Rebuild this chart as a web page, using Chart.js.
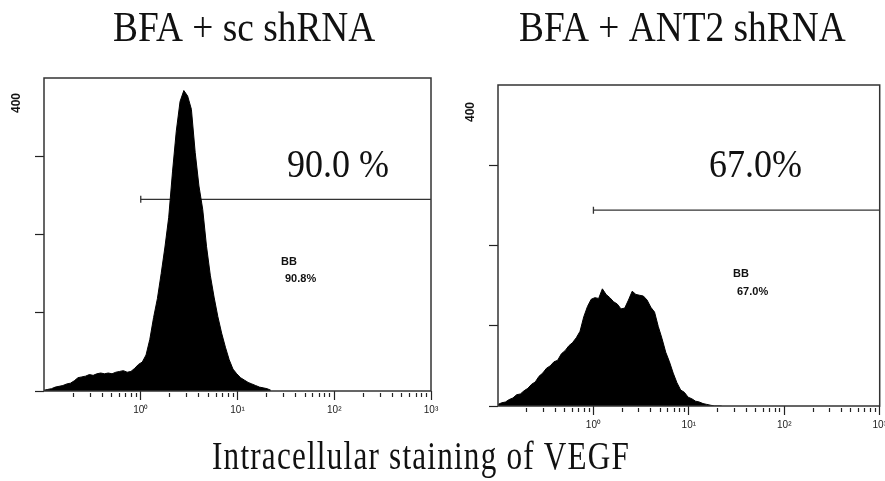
<!DOCTYPE html>
<html>
<head>
<meta charset="utf-8">
<script src="https://cdn.jsdelivr.net/npm/chart.js@4.4.1/dist/chart.umd.min.js"></script>
<style>
  html, body { margin: 0; padding: 0; background: #fff; }
  #wrap { position: relative; width: 885px; height: 481px; overflow: hidden; }
  #c1 { position: absolute; left: 0; top: 0; }
  #c2 { position: absolute; left: 450px; top: 0; }
</style>
</head>
<body>
<div id="wrap">
  <canvas id="c1" width="885" height="481"></canvas>
  <canvas id="c2" width="435" height="481"></canvas>
</div>
<script>
// fluorescence channel (1024 channels = 4 log decades, 256 per decade)
const channels = [0,10,20,30,40,50,60,70,80,90,100,110,120,130,140,150,160,170,180,190,
  200,210,220,230,240,250,260,270,280,290,300,310,320,330,340,350,360,370,380,390,
  400,410,420,430,440,450,460,470,480,490,500,510,520,530,540,550,560,570,580,590,600];

// BFA + sc shRNA  (cell counts per channel bin)
const scCounts = [1,2,3,5,6,7,9,10,13,17,18,19,21,20,22,23,22,23,22,24,
  25,26,24,25,29,34,37,46,66,94,118,150,184,222,280,332,370,384,377,360,
  305,262,232,185,148,120,95,74,56,40,28,22,17,14,11,9,7,5,4,3,1];

// BFA + ANT2 shRNA
const antCounts = [2,4,5,8,10,14,15,19,22,27,30,37,41,47,50,55,57,65,69,75,
  79,85,93,111,124,133,135,134,146,139,135,130,127,121,122,132,143,139,138,137,
  132,123,117,99,84,67,55,41,29,20,17,11,9,6,5,3,2,1,0,0,0];

const decadeLabels = ['10\u2070', '10\u00B9', '10\u00B2', '10\u00B3'];
const gateStart = 256;       // 10^0
const gateLevels = [245, 244];
const yTicks = [0, 100, 200, 300];

// minor + major tick positions of the log display
var xTickList = [];
for (var d = 0; d < 4; d++) {
  for (var k = 2; k <= 9; k++) xTickList.push(256 * (d + Math.log10(k)));
  xTickList.push(256 * (d + 1));
}

const panelDecor = {
  id: 'panelDecor',
  afterDatasetsDraw(chart, args, opts) {
    const ctx = chart.ctx, a = chart.chartArea;
    ctx.save();
    ctx.strokeStyle = '#333';
    ctx.lineWidth = 1.5;
    ctx.strokeRect(a.left, a.top, a.right - a.left, a.bottom - a.top);
    ctx.fillStyle = '#111';
    (opts.texts || []).forEach(function(t) {
      ctx.save();
      ctx.font = t.font;
      ctx.textAlign = t.align || 'left';
      ctx.textBaseline = t.base || 'alphabetic';
      if (t.ls) ctx.letterSpacing = t.ls + 'px';
      ctx.translate(t.x, t.y);
      if (t.rot) ctx.rotate(t.rot);
      ctx.scale(t.sx || 1, 1);
      ctx.fillText(t.text, 0, 0);
      ctx.restore();
    });
    ctx.restore();
  }
};

function isDecade(v) { return Math.abs(v / 256 - Math.round(v / 256)) < 1e-6; }

function makePanel(id, counts, gate, pad, texts) {
  var hist = channels.map(function(c, i) { return { x: c, y: counts[i] }; });
  return new Chart(id, {
    type: 'line',
    data: {
      datasets: [{
        data: hist,
        fill: 'origin',
        tension: 0,
        backgroundColor: '#000',
        borderColor: '#000',
        borderWidth: 1,
        pointRadius: 0
      }, {
        data: [{ x: gateStart, y: gate }, { x: 1024, y: gate }],
        borderColor: '#333',
        borderWidth: 1.3,
        fill: false,
        pointStyle: 'line',
        rotation: 90,
        pointRadius: [3.5, 0],
        pointBorderColor: '#333',
        pointBorderWidth: 1.3
      }]
    },
    options: {
      responsive: false,
      animation: false,
      layout: { padding: pad },
      plugins: {
        legend: { display: false },
        tooltip: { enabled: false },
        panelDecor: { texts: texts }
      },
      scales: {
        x: {
          type: 'linear',
          min: 0, max: 1024,
          afterBuildTicks: function(s) { s.ticks = xTickList.map(function(v) { return { value: v }; }); },
          afterFit: function(s) { s.height = 30; s.paddingLeft = 0; s.paddingRight = 0; },
          border: { display: false },
          grid: {
            drawOnChartArea: false,
            tickLength: 9,
            tickColor: '#222',
            tickWidth: 1.2,
            tickBorderDash: function(c) { return (c.tick && isDecade(c.tick.value)) ? [] : [4, 30]; },
            tickBorderDashOffset: function(c) { return (c.tick && isDecade(c.tick.value)) ? 0 : -2; }
          },
          ticks: {
            autoSkip: false,
            maxRotation: 0,
            padding: 4,
            color: '#222',
            font: { family: 'Liberation Sans', size: 10 },
            callback: function(v) { return isDecade(v) ? decadeLabels[Math.round(v / 256) - 1] : ''; }
          }
        },
        y: {
          min: 0, max: 400,
          afterBuildTicks: function(s) { s.ticks = yTicks.map(function(v) { return { value: v }; }); },
          afterFit: function(s) { s.width = 10; },
          border: { display: false },
          grid: { drawOnChartArea: false, tickLength: 9, tickColor: '#222', tickWidth: 1.2 },
          ticks: { display: false }
        }
      }
    },
    plugins: [panelDecor]
  });
}

var serif = '"Liberation Serif", "Times New Roman", serif';
var sans = '"Liberation Sans", Arial, sans-serif';

var ch1 = makePanel('c1', scCounts, gateLevels[0],
  { left: 34, right: 454, top: 78, bottom: 60 },
  [
    { text: 'BFA + sc shRNA', x: 113, y: 41, font: '42px ' + serif, sx: 0.89 },
    { text: '90.0 %', x: 287, y: 177, font: '40px ' + serif, sx: 0.9 },
    { text: 'BB', x: 281, y: 265, font: 'bold 11px ' + sans },
    { text: '90.8%', x: 285, y: 282, font: 'bold 11px ' + sans },
    { text: '400', x: 17, y: 103, font: 'bold 12px ' + sans, rot: -Math.PI / 2, align: 'center', base: 'middle' },
    { text: 'Intracellular staining of VEGF', x: 212, y: 469, font: '39px ' + serif, sx: 0.8, ls: 1.5 }
  ]);

var ch2 = makePanel('c2', antCounts, gateLevels[1],
  { left: 38, right: 3, top: 85, bottom: 45 },
  [
    { text: 'BFA + ANT2 shRNA', x: 69, y: 41, font: '42px ' + serif, sx: 0.89 },
    { text: '67.0%', x: 259, y: 177, font: '40px ' + serif, sx: 0.9 },
    { text: 'BB', x: 283, y: 277, font: 'bold 11px ' + sans },
    { text: '67.0%', x: 287, y: 295, font: 'bold 11px ' + sans },
    { text: '400', x: 21, y: 112, font: 'bold 12px ' + sans, rot: -Math.PI / 2, align: 'center', base: 'middle' }
  ]);
</script>
</body>
</html>
